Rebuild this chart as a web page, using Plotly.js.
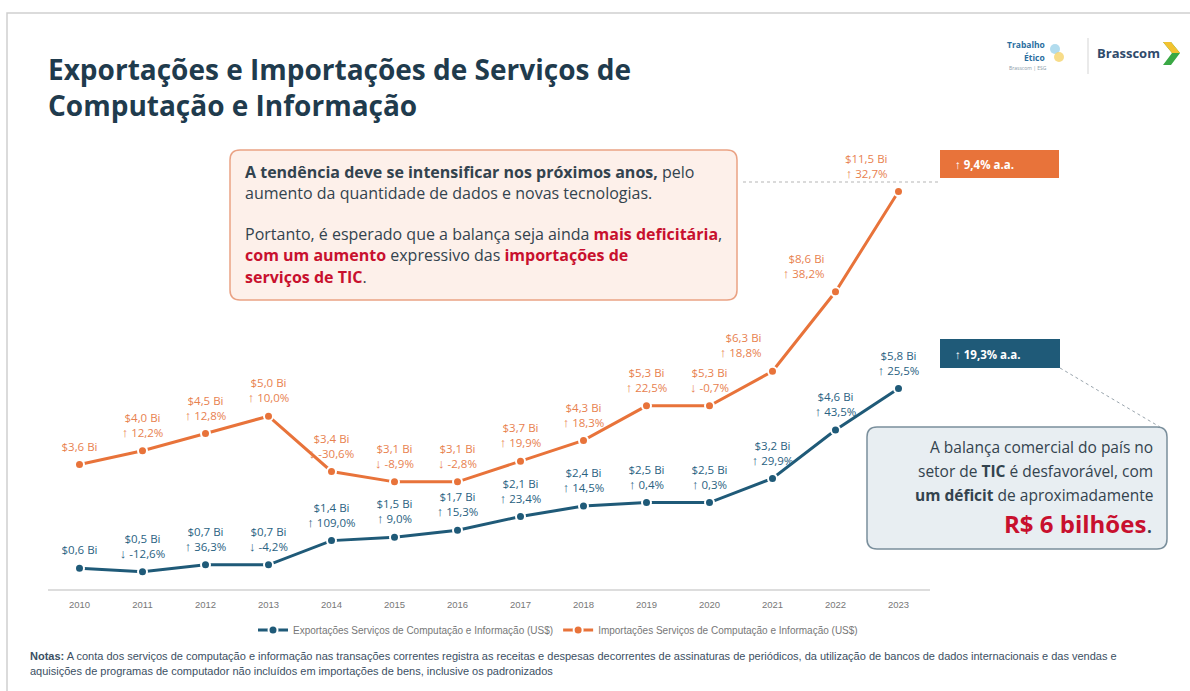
<!DOCTYPE html>
<html>
<head>
<meta charset="utf-8">
<script src="https://cdn.plot.ly/plotly-3.0.1.min.js"></script>
<style>
  html, body { margin: 0; padding: 0; background: #ffffff; }
  #chart { width: 1190px; height: 691px; }
</style>
</head>
<body>
<div id="chart"></div>
<script>
const years = [2010, 2011, 2012, 2013, 2014, 2015, 2016, 2017, 2018, 2019, 2020, 2021, 2022, 2023];
const exportsBi = [0.6, 0.5, 0.7, 0.7, 1.4, 1.5, 1.7, 2.1, 2.4, 2.5, 2.5, 3.2, 4.6, 5.8];
const importsBi = [3.6, 4.0, 4.5, 5.0, 3.4, 3.1, 3.1, 3.7, 4.3, 5.3, 5.3, 6.3, 8.6, 11.5];
const exportsGrowth = [null, -12.6, 36.3, -4.2, 109.0, 9.0, 15.3, 23.4, 14.5, 0.4, 0.3, 29.9, 43.5, 25.5];
const importsGrowth = [null, 12.2, 12.8, 10.0, -30.6, -8.9, -2.8, 19.9, 18.3, 22.5, -0.7, 18.8, 38.2, 32.7];
const exportsCagr = 19.3;
const importsCagr = 9.4;

const BLUE = "#1f5a78";
const ORANGE = "#e8733a";
const RED = "#c8102e";
const INK = "#33434e";

// plot area in pixels (used to place boxes/notes in paper coords)
const L = 48, R = 930, T = 157, B = 589;
const px = (x) => (x - L) / (R - L);
const py = (y) => (B - y) / (B - T);

const fmt = (v) => v.toFixed(1).replace(".", ",");
const arrow = (g) => `<b><span style="font-size:13px">${g < 0 ? "↓" : "↑"}</span></b>`;
const label = (v, g) =>
  g == null ? `$${fmt(v)} Bi` : `$${fmt(v)} Bi<br>${arrow(g)} ${fmt(g)}%`;

function roundRect(x0, y0, x1, y1, r) {
  const X = (x) => px(x).toFixed(5);
  const Y = (y) => py(y).toFixed(5);
  return `M${X(x0 + r)},${Y(y0)} L${X(x1 - r)},${Y(y0)} Q${X(x1)},${Y(y0)} ${X(x1)},${Y(y0 + r)} ` +
    `L${X(x1)},${Y(y1 - r)} Q${X(x1)},${Y(y1)} ${X(x1 - r)},${Y(y1)} L${X(x0 + r)},${Y(y1)} ` +
    `Q${X(x0)},${Y(y1)} ${X(x0)},${Y(y1 - r)} L${X(x0)},${Y(y0 + r)} Q${X(x0)},${Y(y0)} ${X(x0 + r)},${Y(y0)} Z`;
}

const lineTrace = (name, y, color) => ({
  x: years,
  y,
  name,
  type: "scatter",
  mode: "lines+markers",
  line: { color, width: 3 },
  marker: { size: 9, color, line: { color: "#ffffff", width: 2 } },
  hoverinfo: "skip",
});

const labelTrace = (y, growth, color, positions) => ({
  x: years,
  y,
  type: "scatter",
  mode: "markers+text",
  showlegend: false,
  text: y.map((v, i) => label(v, growth[i])),
  textposition: positions,
  textfont: { family: "Open Sans", size: 11.5, color },
  marker: { size: 16, color: "rgba(0,0,0,0)" },
  cliponaxis: false,
  hoverinfo: "skip",
});

const traces = [
  lineTrace("Exportações Serviços de Computação e Informação (US$)", exportsBi, BLUE),
  lineTrace("Importações Serviços de Computação e Informação (US$)", importsBi, ORANGE),
  labelTrace(exportsBi, exportsGrowth, "#2a6282", years.map(() => "top center")),
  labelTrace(importsBi, importsGrowth, "#e8814f",
    years.map((yr) => (yr >= 2021 ? "top left" : "top center"))),
];

const txt = (x, y, text, opts = {}) => ({
  xref: "paper", yref: "paper",
  x: px(x), y: py(y),
  text,
  showarrow: false,
  xanchor: opts.xanchor || "left",
  yanchor: opts.yanchor || "middle",
  align: opts.align || "left",
  font: Object.assign({ family: "Open Sans", size: 15.5, color: INK }, opts.font || {}),
});

const red = (s) => `<b><span style="color:${RED}">${s}</span></b>`;
const white = { size: 11.5, color: "#ffffff", family: "Open Sans" };

const annotations = [
  // orange note
  txt(243, 172, "<b>A tendência deve se intensificar nos próximos anos,</b> pelo", { font: { size: 16 } }),
  txt(243, 193, "aumento da quantidade de dados e novas tecnologias.", { font: { size: 16 } }),
  txt(243, 234, `Portanto, é esperado que a balança seja ainda ${red("mais deficitária")},`, { font: { size: 16 } }),
  txt(243, 255, `${red("com um aumento")} expressivo das ${red("importações de")}`, { font: { size: 16 } }),
  txt(243, 277, `${red("serviços de TIC")}.`, { font: { size: 16 } }),
  // growth boxes
  txt(953, 164, `<b>↑ ${fmt(importsCagr)}% a.a.</b>`, { font: white }),
  txt(953, 354, `<b>↑ ${fmt(exportsCagr)}% a.a.</b>`, { font: white }),
  // gray note
  txt(1155, 447, "A balança comercial do país no", { xanchor: "right", align: "right" }),
  txt(1155, 471, "setor de <b>TIC</b> é desfavorável, com", { xanchor: "right", align: "right" }),
  txt(1155, 495, "<b>um déficit</b> de aproximadamente", { xanchor: "right", align: "right" }),
  txt(1155, 523, `${red("R$ 6 bilhões")}.`, { xanchor: "right", align: "right", font: { size: 24 } }),
  // logos
  txt(1047, 45, "<b>Trabalho</b>", { xanchor: "right", font: { size: 8.5, color: "#2a6ea0" } }),
  txt(1047, 57, "<b>Ético</b>", { xanchor: "right", font: { size: 8.5, color: "#2a6ea0" } }),
  txt(1049, 68, "Brasscom | ESG", { xanchor: "right", font: { size: 5, color: "#8a9aa8" } }),
  txt(1095, 53, "<b>Brasscom</b>", { font: { size: 13, color: "#2f4a6b" } }),
  // notes
  txt(28, 656, "<b>Notas:</b> A conta dos serviços de computação e informação nas transações correntes registra as receitas e despesas decorrentes de assinaturas de periódicos, da utilização de bancos de dados internacionais e das vendas e",
    { font: { family: "Liberation Sans", size: 11, color: "#3b4f63" } }),
  txt(28, 671, "aquisições de programas de computador não incluídos em importações de bens, inclusive os padronizados",
    { font: { family: "Liberation Sans", size: 11, color: "#3b4f63" } }),
];

const X = (x) => px(x);
const Y = (y) => py(y);
const shapes = [
  // page frame
  { type: "rect", xref: "paper", yref: "paper", x0: X(7), x1: X(1200), y0: Y(13), y1: Y(700),
    line: { color: "#cfcfcf", width: 1.5 }, fillcolor: "rgba(0,0,0,0)", layer: "below" },
  // orange note box
  { type: "path", xref: "paper", yref: "paper", path: roundRect(230, 150, 737, 300, 10),
    fillcolor: "#fdf0ea", line: { color: "#eaa284", width: 1.5 }, layer: "below" },
  // gray note box
  { type: "path", xref: "paper", yref: "paper", path: roundRect(867, 427, 1167, 549, 10),
    fillcolor: "#e8eef2", line: { color: "#7a8f9c", width: 1.5 }, layer: "below" },
  // growth boxes
  { type: "rect", xref: "paper", yref: "paper", x0: X(940), x1: X(1059), y0: Y(150), y1: Y(178),
    fillcolor: ORANGE, line: { width: 0 } },
  { type: "rect", xref: "paper", yref: "paper", x0: X(940), x1: X(1060), y0: Y(339), y1: Y(368),
    fillcolor: BLUE, line: { width: 0 } },
  // dotted leaders
  { type: "line", xref: "paper", yref: "paper", x0: X(743), x1: X(940), y0: Y(182), y1: Y(182),
    line: { color: "#b5b5b5", width: 1, dash: "dot" } },
  { type: "line", xref: "paper", yref: "paper", x0: X(1060), x1: X(1160), y0: Y(368), y1: Y(427),
    line: { color: "#9aa5ad", width: 1, dash: "dot" } },
  // logo divider and chevron
  { type: "line", xref: "paper", yref: "paper", x0: X(1088), x1: X(1088), y0: Y(38), y1: Y(74),
    line: { color: "#d5d5d5", width: 1 } },
  { type: "path", xref: "paper", yref: "paper",
    path: `M${X(1163)},${Y(42)} L${X(1171)},${Y(42)} L${X(1180)},${Y(53)} L${X(1171)},${Y(65)} L${X(1163)},${Y(65)} L${X(1172)},${Y(53)} Z`,
    fillcolor: "#3aa845", line: { width: 0 } },
  { type: "path", xref: "paper", yref: "paper",
    path: `M${X(1163)},${Y(42)} L${X(1171)},${Y(42)} L${X(1180)},${Y(53)} L${X(1172)},${Y(53)} Z`,
    fillcolor: "#f2c230", line: { width: 0 } },
  { type: "circle", xref: "paper", yref: "paper", x0: X(1050), x1: X(1060), y0: Y(44), y1: Y(54),
    fillcolor: "#9fd3ea", line: { width: 0 }, opacity: 0.8 },
  { type: "circle", xref: "paper", yref: "paper", x0: X(1054), x1: X(1064), y0: Y(52), y1: Y(62),
    fillcolor: "#f5d36b", line: { width: 0 }, opacity: 0.8 },
];

const layout = {
  width: 1190,
  height: 691,
  paper_bgcolor: "#ffffff",
  plot_bgcolor: "#ffffff",
  margin: { l: L, r: 1190 - R, t: T, b: 691 - B },
  title: {
    text: "Exportações e Importações de Serviços de<br>Computação e Informação",
    xref: "paper",
    x: 0,
    xanchor: "left",
    yref: "container",
    y: 1 - 80 / 691,
    yanchor: "top",
    font: { family: "Open Sans", size: 28, weight: 700, color: "#1f3b4d" },
  },
  xaxis: {
    range: [2009.5, 2023.5],
    tickvals: years,
    ticktext: years.map(String),
    showgrid: false,
    zeroline: false,
    showline: true,
    linecolor: "#dddddd",
    linewidth: 1.5,
    ticks: "",
    ticklabelstandoff: 6,
    tickfont: { family: "Liberation Sans", size: 9.5, color: "#777777" },
    fixedrange: true,
  },
  yaxis: { range: [0, 12.5], visible: false, fixedrange: true },
  showlegend: true,
  legend: {
    orientation: "h",
    x: px(558),
    xanchor: "center",
    y: py(630),
    yanchor: "middle",
    font: { family: "Liberation Sans", size: 10, color: "#777777" },
    itemwidth: 30,
    bgcolor: "rgba(0,0,0,0)",
  },
  annotations,
  shapes,
};

Plotly.newPlot("chart", traces, layout, { displayModeBar: false, staticPlot: true });
</script>
</body>
</html>
